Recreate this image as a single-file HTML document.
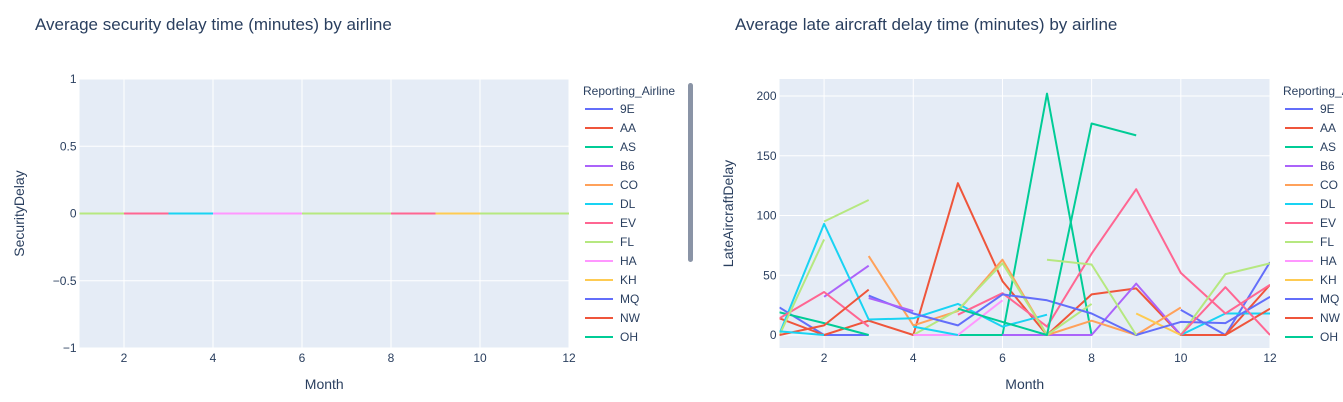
<!DOCTYPE html>
<html><head><meta charset="utf-8"><style>
body{margin:0;background:#fff;}
svg{display:block;font-family:"Liberation Sans",sans-serif;}
</style></head><body>
<svg id="chart" width="1343" height="402">
<text x="35" y="30" font-size="17" fill="#2a3f5f">Average security delay time (minutes) by airline</text>
<text x="735" y="30" font-size="17" fill="#2a3f5f">Average late aircraft delay time (minutes) by airline</text>
<g id="left"></g>
<g id="right"></g>
</svg>
<script>
const months = [1,2,3,4,5,6,7,8,9,10,11,12];
const airlines = ["9E","AA","AS","B6","CO","DL","EV","FL","HA","KH","MQ","NW","OH","OO","TZ","UA","US","WN","XE","YV"];
const palette = ["#636efa","#EF553B","#00cc96","#ab63fa","#FFA15A","#19d3f3","#FF6692","#B6E880","#FF97FF","#FECB52"];
const N = null;
// Security delay (left)
const secFL = [0,0,N,N,N,0,0,0,N,0,0,0];
const secEV = [N,0,0,N,N,N,N,0,0,N,N,N];
const secDL = [N,N,0,0,N,N,N,N,N,N,N,N];
const secHA = [N,N,N,0,0,0,N,N,N,N,N,N];
const secKH = [N,N,N,N,N,N,N,N,0,0,N,N];
const secTicksY = [-1,-0.5,0,0.5,1];
const secTickLabelsY = ["−1","−0.5","0","0.5","1"];
// Late aircraft delay (right)
const late9E = [23,0,0,N,N,N,N,N,N,21,0,61];
const lateAA = [14,0,12,0,127,45,0,34,39,0,0,42];
const lateAS = [19,10,0,N,0,0,202,0,N,N,N,N];
const lateB6 = [N,32,58,N,N,0,0,0,43,0,N,N];
const lateCO = [N,N,66,8,20,63,0,12,0,23,N,N];
const lateDL = [1,93,13,14,26,7,17,N,N,0,18,18];
const lateEV = [14,36,7,N,17,35,7,68,122,52,18,42];
const lateFL = [0,80,N,0,21,60,0,26,N,0,51,60];
const lateHA = [N,N,N,0,0,29,N,N,N,N,N,N];
const lateKH = [N,N,N,N,N,N,N,N,18,0,N,N];
const lateMQ = [N,N,33,18,8,34,29,18,0,11,10,32];
const lateNW = [0,8,38,N,N,N,N,N,N,N,0,22];
const lateOH = [N,N,N,N,22,11,0,177,167,N,N,N];
const lateOO = [N,N,31,20,N,N,N,N,N,N,N,N];
const lateUA = [3,0,N,7,0,N,N,N,N,N,N,N];
const lateUS = [N,N,N,N,N,N,N,N,N,0,40,0];
const lateWN = [N,95,113,N,N,N,63,59,0,N,N,N];
const lateTicksY = [0,50,100,150,200];
const xTicks = [2,4,6,8,10,12];

const NS="http://www.w3.org/2000/svg";
function mk(parent,tag,attrs){const e=document.createElementNS(NS,tag);for(const k in attrs)e.setAttribute(k,attrs[k]);parent.appendChild(e);return e;}

function drawChart(g,cfg){
  const L=cfg.left,R=cfg.right,T=79,B=348;
  const xs=m=>L+(m-1)*(R-L)/11;
  const ys=v=>B-(v-cfg.ymin)*(B-T)/(cfg.ymax-cfg.ymin);
  const bg=mk(g,"rect",{x:L,y:T,width:R-L,height:B-T,fill:"#e5ecf6"});
  
  
  xTicks.forEach(t=>{
    const l=mk(g,"line",{x1:xs(t),x2:xs(t),y1:T,y2:B,stroke:"#fff","stroke-width":1});
    
    
    const tx=mk(g,"text",{x:xs(t),y:362,"font-size":12,fill:"#2a3f5f","text-anchor":"middle"});
    tx.textContent=t;
    
    
  });
  cfg.yticks.forEach((t,i)=>{
    const l=mk(g,"line",{x1:L,x2:R,y1:ys(t),y2:ys(t),stroke:"#fff","stroke-width":1});
    
    
    const tx=mk(g,"text",{x:L-3,y:ys(t)+4,"font-size":12,fill:"#2a3f5f","text-anchor":"end"});
    tx.textContent=cfg.ylabels[i];
    
    
  });
  const xt=mk(g,"text",{x:(L+R)/2,y:389,"font-size":14,fill:"#2a3f5f","text-anchor":"middle"});
  xt.textContent="Month";
  
  
  const cy=(T+B)/2;
  const yt=mk(g,"text",{x:cfg.ytitleX,y:cy,"font-size":14,fill:"#2a3f5f","text-anchor":"middle",transform:`rotate(-90 ${cfg.ytitleX} ${cy})`});
  yt.textContent=cfg.ytitle;
  
  
  const clip=mk(g,"clipPath",{id:cfg.id+"clip"});
  mk(clip,"rect",{x:L,y:T,width:R-L,height:B-T});
  const lines=mk(g,"g",{"clip-path":`url(#${cfg.id}clip)`});
  cfg.series.forEach(s=>{
    const col=palette[airlines.indexOf(s.name)%10];
    let d="",pen=false;
    s.vals.forEach((v,i)=>{
      if(v===null){pen=false;return;}
      d+=(pen?"L":"M")+xs(months[i]).toFixed(1)+" "+ys(v).toFixed(1)+" ";pen=true;
    });
    const p=mk(lines,"path",{d:d,fill:"none",stroke:col,"stroke-width":2,"stroke-linejoin":"round"});
    
    
  });
  // legend
  const lg=mk(g,"g",{});
  
  
  const lx=cfg.legendX;
  const lt=mk(lg,"text",{x:lx-2,y:95,"font-size":12,fill:"#2a3f5f"});
  lt.textContent="Reporting_Airline";
  
  
  airlines.slice(0,13).forEach((a,i)=>{
    const y=109+i*19;
    const e=mk(lg,"g",{});
    
    
    mk(e,"line",{x1:lx,x2:lx+28,y1:y,y2:y,stroke:palette[i%10],"stroke-width":2});
    const t=mk(e,"text",{x:lx+35,y:y+4,"font-size":12,fill:"#2a3f5f"});
    t.textContent=a;
  });
}
const left=document.getElementById("left"), right=document.getElementById("right");
drawChart(left,{id:"l",left:79.5,right:569,ymin:-1,ymax:1,yticks:secTicksY,ylabels:secTickLabelsY,ytitle:"SecurityDelay",ytitleX:24,legendX:585,
  series:[{name:"FL",vals:secFL},{name:"EV",vals:secEV},{name:"DL",vals:secDL},{name:"HA",vals:secHA},{name:"KH",vals:secKH}]});
const sb=mk(left,"rect",{x:688,y:83,width:5,height:179,rx:2.5,fill:"#8a94a6"});


drawChart(right,{id:"r",left:779.5,right:1270,ymin:0,ymax:200*(348-335)/(335-96)*0+0,yticks:lateTicksY,ylabels:lateTicksY.map(String),ytitle:"LateAircraftDelay",ytitleX:733,legendX:1285,series:[]});
</script>
<script>
// redraw right chart with proper scale (0 at y=335, 200 at y=96)
(function(){
  const r=document.getElementById("right");
  while(r.firstChild) r.removeChild(r.firstChild);
  const per=(335-96)/200;
  drawChart(r,{id:"r2",left:779.5,right:1270,ymin:-(348-335)/per,ymax:200+(96-79)/per,yticks:lateTicksY,ylabels:lateTicksY.map(String),ytitle:"LateAircraftDelay",ytitleX:733,legendX:1285,
  series:[{name:"9E",vals:late9E},{name:"AA",vals:lateAA},{name:"AS",vals:lateAS},{name:"B6",vals:lateB6},{name:"CO",vals:lateCO},{name:"DL",vals:lateDL},{name:"EV",vals:lateEV},{name:"FL",vals:lateFL},{name:"HA",vals:lateHA},{name:"KH",vals:lateKH},{name:"MQ",vals:lateMQ},{name:"NW",vals:lateNW},{name:"OH",vals:lateOH},{name:"OO",vals:lateOO},{name:"UA",vals:lateUA},{name:"US",vals:lateUS},{name:"WN",vals:lateWN}]});
})();
</script>
</body></html>
